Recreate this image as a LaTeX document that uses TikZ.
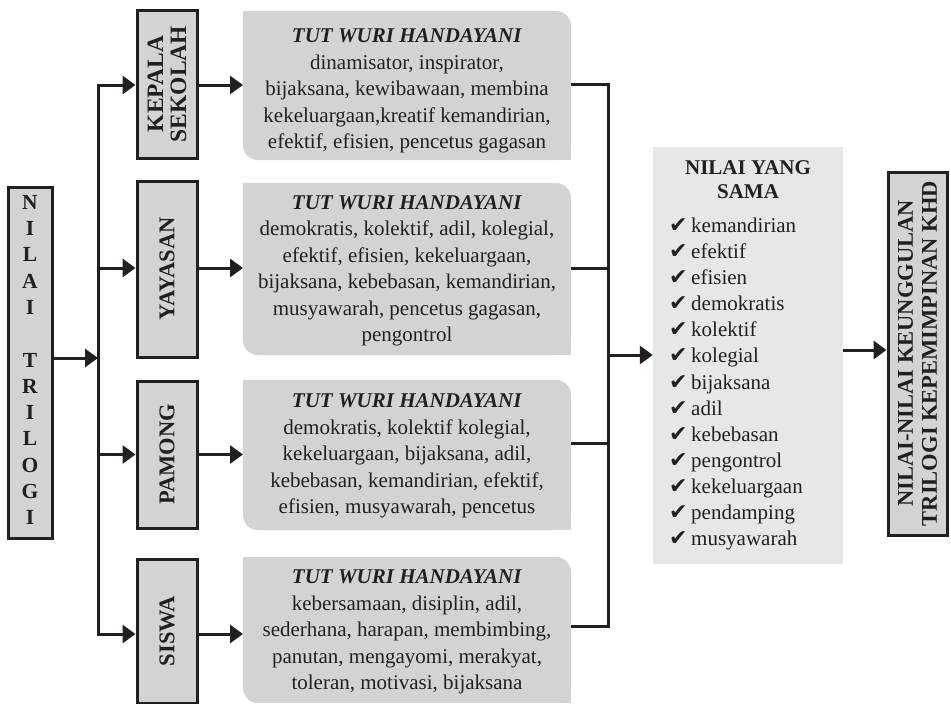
\documentclass[tikz,border=0pt]{standalone}
\usepackage{fontspec}
\setmainfont{Liberation Serif}
\newfontfamily\symfont{DejaVu Sans}
\usetikzlibrary{arrows.meta}
\definecolor{ink}{HTML}{231F20}
\definecolor{boxgray}{HTML}{D1D3D4}
\definecolor{panelgray}{HTML}{E6E7E8}
\newcommand{\ck}{\makebox[22pt][l]{\symfont\fontsize{22}{22}\selectfont ✔}}
\newcommand{\twh}{\textbf{\textit{TUT WURI HANDAYANI}}}

\begin{document}
\begin{tikzpicture}[x=1pt,y=-1pt,
  line/.style={draw=ink, line width=3pt},
  arr/.style={line, -{Triangle[length=13pt,width=18pt]}},
  arrboth/.style={line, {Triangle[length=13pt,width=18pt]}-{Triangle[length=13pt,width=18pt]}},
  lbox/.style={draw=ink, fill=boxgray, line width=3pt, inner sep=0pt},
  gbox/.style={fill=boxgray, rounded corners=15pt, inner sep=0pt, outer sep=0pt,
               minimum width=328pt},
  vlab/.style={font=\bfseries\fontsize{22.5}{24}\selectfont, text=ink, align=center,
               inner sep=0pt, rotate=90},
  body/.style={font=\fontsize{21}{26.5}\selectfont, text=ink, align=center, inner sep=0pt},
]
\useasboundingbox (0,0) rectangle (951,704);

% ---------- source box ----------
\node[lbox, minimum width=44pt, minimum height=351pt] (trilogi) at (30,362.5) {};
\node[font=\bfseries\fontsize{21.5}{26.3}\selectfont, text=ink, align=center, inner sep=0pt]
  (trilogitxt) at (30,360) {N\\I\\L\\A\\I\\[26.3pt]T\\R\\I\\L\\O\\G\\I};

% ---------- actor boxes ----------
\node[lbox, minimum width=60pt, minimum height=148pt] (kepala) at (167,84) {};
\node[vlab, font=\bfseries\fontsize{23.5}{23}\selectfont] (kepalatxt) at (kepala.center) {KEPALA\\SEKOLAH};
\node[lbox, minimum width=60pt, minimum height=176pt] (yayasan) at (167,269) {};
\node[vlab] (yayasantxt) at (yayasan.center) {YAYASAN};
\node[lbox, minimum width=60pt, minimum height=147pt] (pamong) at (167,454.5) {};
\node[vlab] (pamongtxt) at (pamong.center) {PAMONG};
\node[lbox, minimum width=60pt, minimum height=144pt] (siswa) at (167,631) {};
\node[vlab] (siswatxt) at (siswa.center) {SISWA};

% ---------- value boxes ----------
\node[gbox, minimum height=149pt] (b1) at (407,85.5) {};
\node[gbox, minimum height=172pt] (b2) at (407,269) {};
\node[gbox, minimum height=150pt] (b3) at (407,455) {};
\node[gbox, minimum height=146pt] (b4) at (407,630) {};
\foreach \b in {b1,b2,b3,b4}{
  \fill[boxgray] (\b.north west) rectangle ++(16,16);
  \fill[boxgray] (\b.south east) rectangle ++(-16,-16);
}
\node[body] (t1) at (407,91) {\twh\\dinamisator, inspirator,\\bijaksana, kewibawaan, membina\\kekeluargaan,kreatif kemandirian,\\efektif, efisien, pencetus gagasan};
\node[body] (t2) at (407,271) {\twh\\demokratis, kolektif, adil, kolegial,\\efektif, efisien, kekeluargaan,\\bijaksana, kebebasan, kemandirian,\\musyawarah, pencetus gagasan,\\pengontrol};
\node[body] (t3) at (407,456) {\twh\\demokratis, kolektif kolegial,\\kekeluargaan, bijaksana, adil,\\kebebasan, kemandirian, efektif,\\efisien, musyawarah, pencetus};
\node[body] (t4) at (407,632) {\twh\\kebersamaan, disiplin, adil,\\sederhana, harapan, membimbing,\\panutan, mengayomi, merakyat,\\toleran, motivasi, bijaksana};

% ---------- shared values panel ----------
\node[fill=panelgray, inner sep=0pt, minimum width=190pt, minimum height=417pt] (sama) at (748,355.5) {};
\node[font=\bfseries\fontsize{21}{24}\selectfont, text=ink, align=center, inner sep=0pt]
  (samatitle) at (748,180) {NILAI YANG\\SAMA};
\node[font=\fontsize{21}{26.1}\selectfont, text=ink, align=left, inner sep=0pt, anchor=west]
  (samalist) at (669,384) {\ck kemandirian\\\ck efektif\\\ck efisien\\\ck demokratis\\\ck kolektif\\\ck kolegial\\\ck bijaksana\\\ck adil\\\ck kebebasan\\\ck pengontrol\\\ck kekeluargaan\\\ck pendamping\\\ck musyawarah};

% ---------- result box ----------
\node[lbox, minimum width=59pt, minimum height=363pt] (final) at (917.5,353.5) {};
\node[vlab, font=\bfseries\fontsize{22.5}{24}\selectfont] (finaltxt) at (final.center) {NILAI-NILAI KEUNGGULAN\\TRILOGI KEPEMIMPINAN KHD};

% ---------- left bus ----------
\coordinate (lk) at (98,85);
\coordinate (ly) at (98,268);
\coordinate (lp) at (98,454.5);
\coordinate (ls) at (98,634);
\coordinate (lm) at (98,358);
\draw[arrboth] (lk -| kepala.west) -- (lk) -- (ls) -- (ls -| siswa.west);
\draw[arr] (ly) -- (ly -| yayasan.west);
\draw[arr] (lp) -- (lp -| pamong.west);
\draw[arr] (trilogi.east |- lm) -- (lm);

% ---------- actor to values ----------
\draw[arr] (kepala.east |- lk) -- (b1.west |- lk);
\draw[arr] (yayasan.east |- ly) -- (b2.west |- ly);
\draw[arr] (pamong.east |- lp) -- (b3.west |- lp);
\draw[arr] (siswa.east |- ls) -- (b4.west |- ls);

% ---------- right bus ----------
\coordinate (r1) at (608,84);
\coordinate (r2) at (608,268);
\coordinate (r3) at (608,443);
\coordinate (r4) at (608,626);
\coordinate (rm) at (608,355);
\draw[line] (b1.east |- r1) -- (r1) -- (r4) -- (b4.east |- r4);
\draw[line] (b2.east |- r2) -- (r2);
\draw[line] (b3.east |- r3) -- (r3);
\draw[arr] (rm) -- (sama.west |- rm);

% ---------- panel to result ----------
\coordinate (fy) at (0,350);
\draw[arr] (sama.east |- fy) -- (final.west |- fy);
\end{tikzpicture}
\end{document}
